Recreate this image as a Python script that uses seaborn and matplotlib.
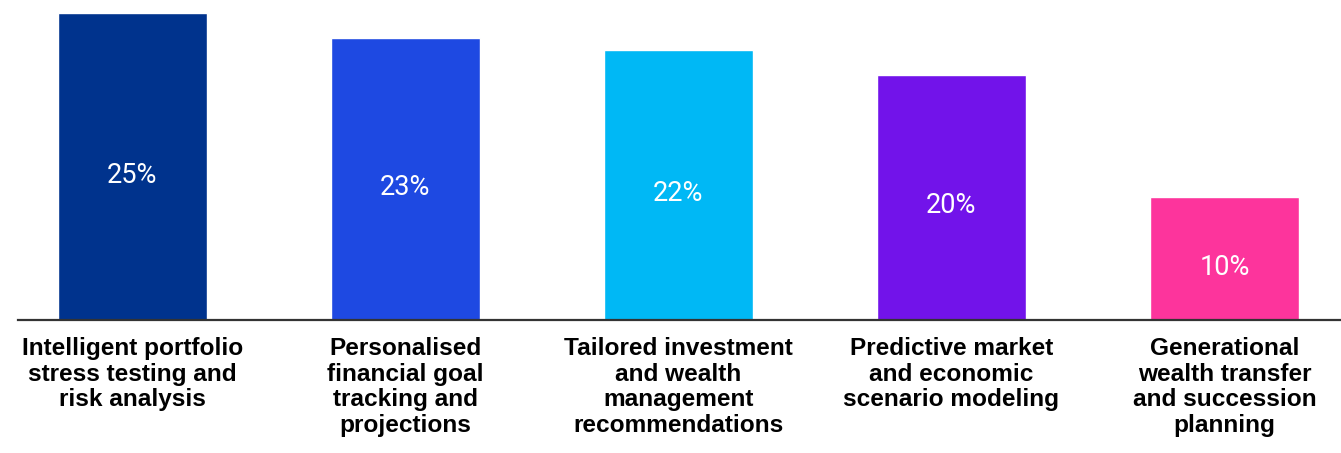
import matplotlib
matplotlib.use("Agg")
import matplotlib.pyplot as plt
import seaborn as sns
import pandas as pd

categories = [
    "Intelligent portfolio\nstress testing and\nrisk analysis",
    "Personalised\nfinancial goal\ntracking and\nprojections",
    "Tailored investment\nand wealth\nmanagement\nrecommendations",
    "Predictive market\nand economic\nscenario modeling",
    "Generational\nwealth transfer\nand succession\nplanning",
]
values = [25, 23, 22, 20, 10]
value_labels = ["25%", "23%", "22%", "20%", "10%"]
colors = ["#00338D", "#1E49E2", "#00B8F5", "#7213EA", "#FD349C"]

df = pd.DataFrame({"category": categories, "value": values})

sns.set_theme(style="white")
plt.rcParams["font.family"] = ["Liberation Sans", "DejaVu Sans"]

fig = plt.figure(figsize=(13.41, 4.53), dpi=100)
ax = fig.add_axes([18 / 1341, 1 - 320 / 453, 1 - 18 / 1341, 320 / 453])

sns.barplot(data=df, x="category", y="value", hue="category",
            palette=colors, legend=False, width=0.546, saturation=1,
            ax=ax)

ax.set_xlim(-0.419, 4.427)
ax.set_ylim(0, 26.1)

# value labels inside each bar
for i, (v, lab) in enumerate(zip(values, value_labels)):
    ax.annotate(lab, (i, v / 2), xytext=(0, -6), textcoords="offset points",
                ha="center", va="center", color="white", fontsize=19.5,
                family=["Roboto", "Liberation Sans"])

for s in ["top", "right", "left"]:
    ax.spines[s].set_visible(False)
ax.spines["bottom"].set_color("#333333")
ax.spines["bottom"].set_linewidth(1.6)

ax.set_yticks([])
ax.set_xlabel("")
ax.set_ylabel("")
ax.tick_params(axis="x", length=0, pad=12)
ax.set_xticks(range(len(categories)))
ax.set_xticklabels(categories, fontsize=17.6, fontweight="bold",
                   color="black", linespacing=1.16)

fig.savefig("out.png", dpi=100)
